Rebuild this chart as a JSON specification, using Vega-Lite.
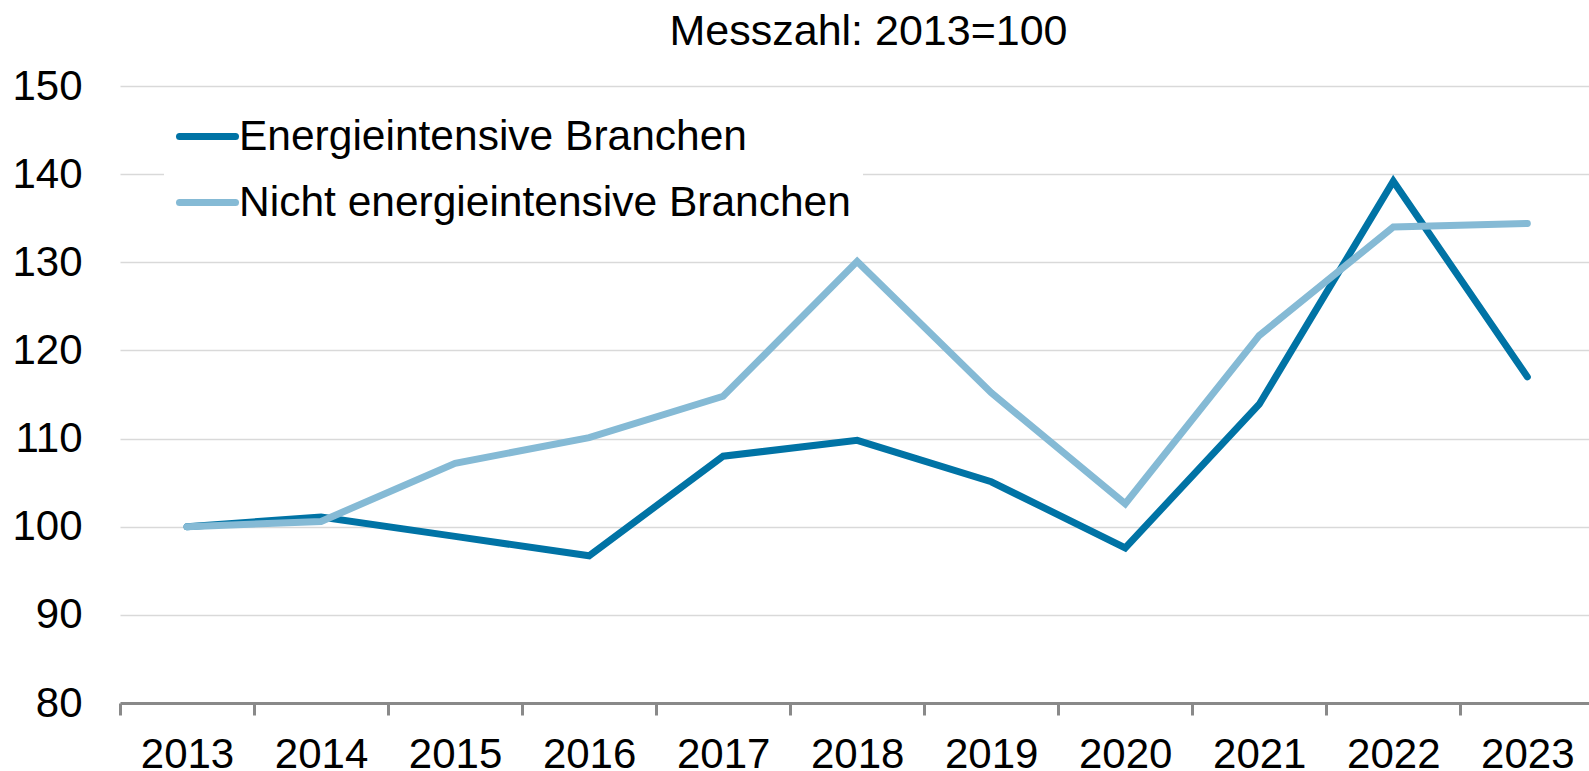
{
  "$schema": "https://vega.github.io/schema/vega-lite/v6.json",
  "autosize": "none",
  "padding": {"left": 120, "top": 86, "right": 0, "bottom": 68},
  "width": 1469,
  "height": 617,
  "background": "white",
  "title": {
    "text": "Messzahl: 2013=100",
    "font": "Liberation Sans",
    "fontSize": 43,
    "fontWeight": "normal",
    "color": "black",
    "anchor": "middle",
    "dx": 14,
    "offset": 11
  },
  "config": {
    "view": {"stroke": null},
    "font": "Liberation Sans"
  },
  "data": {
    "values": [
      {"Jahr": 2013, "Reihe": "Energieintensive Branchen", "Wert": 100.0},
      {"Jahr": 2014, "Reihe": "Energieintensive Branchen", "Wert": 101.1},
      {"Jahr": 2015, "Reihe": "Energieintensive Branchen", "Wert": 98.9},
      {"Jahr": 2016, "Reihe": "Energieintensive Branchen", "Wert": 96.7},
      {"Jahr": 2017, "Reihe": "Energieintensive Branchen", "Wert": 108.0},
      {"Jahr": 2018, "Reihe": "Energieintensive Branchen", "Wert": 109.8},
      {"Jahr": 2019, "Reihe": "Energieintensive Branchen", "Wert": 105.1},
      {"Jahr": 2020, "Reihe": "Energieintensive Branchen", "Wert": 97.6},
      {"Jahr": 2021, "Reihe": "Energieintensive Branchen", "Wert": 113.9},
      {"Jahr": 2022, "Reihe": "Energieintensive Branchen", "Wert": 139.2},
      {"Jahr": 2023, "Reihe": "Energieintensive Branchen", "Wert": 117.0},
      {"Jahr": 2013, "Reihe": "Nicht energieintensive Branchen", "Wert": 100.0},
      {"Jahr": 2014, "Reihe": "Nicht energieintensive Branchen", "Wert": 100.6},
      {"Jahr": 2015, "Reihe": "Nicht energieintensive Branchen", "Wert": 107.2},
      {"Jahr": 2016, "Reihe": "Nicht energieintensive Branchen", "Wert": 110.1},
      {"Jahr": 2017, "Reihe": "Nicht energieintensive Branchen", "Wert": 114.8},
      {"Jahr": 2018, "Reihe": "Nicht energieintensive Branchen", "Wert": 130.1},
      {"Jahr": 2019, "Reihe": "Nicht energieintensive Branchen", "Wert": 115.2},
      {"Jahr": 2020, "Reihe": "Nicht energieintensive Branchen", "Wert": 102.6},
      {"Jahr": 2021, "Reihe": "Nicht energieintensive Branchen", "Wert": 121.7},
      {"Jahr": 2022, "Reihe": "Nicht energieintensive Branchen", "Wert": 134.0},
      {"Jahr": 2023, "Reihe": "Nicht energieintensive Branchen", "Wert": 134.4}
    ]
  },
  "mark": {"type": "line", "strokeWidth": 7, "strokeCap": "round", "strokeJoin": "miter", "clip": false},
  "encoding": {
    "x": {
      "field": "Jahr",
      "type": "quantitative",
      "scale": {"domain": [2012.5, 2023.46], "nice": false, "zero": false},
      "axis": {
        "title": null,
        "grid": false,
        "values": [2012.5, 2013.5, 2014.5, 2015.5, 2016.5, 2017.5, 2018.5, 2019.5, 2020.5, 2021.5, 2022.5],
        "labelExpr": "format(datum.value + 0.5, 'd')",
        "labelOffset": 67,
        "labelFontSize": 42,
        "labelFont": "Liberation Sans",
        "labelColor": "black",
        "labelPadding": 19,
        "labelFlush": false,
        "labelOverlap": false,
        "domainColor": "#898989",
        "domainWidth": 3,
        "tickColor": "#898989",
        "tickWidth": 3,
        "tickSize": 12
      }
    },
    "y": {
      "field": "Wert",
      "type": "quantitative",
      "scale": {"domain": [80, 150], "nice": false, "zero": false},
      "axis": {
        "title": null,
        "values": [80, 90, 100, 110, 120, 130, 140, 150],
        "grid": true,
        "gridColor": "#D9D9D9",
        "gridWidth": 1.3,
        "domain": false,
        "ticks": false,
        "labelFontSize": 42,
        "labelFont": "Liberation Sans",
        "labelColor": "black",
        "labelPadding": 38
      }
    },
    "color": {
      "field": "Reihe",
      "type": "nominal",
      "scale": {
        "domain": ["Energieintensive Branchen", "Nicht energieintensive Branchen"],
        "range": ["#0073A5", "#85BAD5"]
      },
      "legend": {
        "title": null,
        "orient": "none",
        "legendX": 44,
        "legendY": 7,
        "fillColor": "white",
        "padding": 12,
        "symbolType": "stroke",
        "symbolStrokeWidth": 7,
        "symbolSize": 3136,
        "labelFontSize": 42.5,
        "labelFont": "Liberation Sans",
        "labelColor": "black",
        "labelOffset": 0,
        "labelLimit": 1000,
        "rowPadding": 13,
        "encode": {"symbols": {"update": {"strokeCap": {"value": "round"}}}}
      }
    }
  }
}
